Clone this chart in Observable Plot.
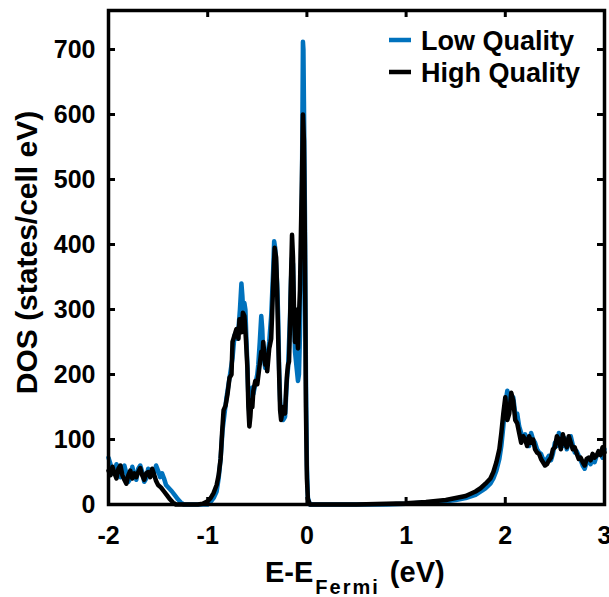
<!DOCTYPE html>
<html>
<head>
<meta charset="utf-8">
<script src="https://cdn.jsdelivr.net/npm/d3@7"></script>
<script src="https://cdn.jsdelivr.net/npm/@observablehq/plot@0.6"></script>
<style>
  html, body { margin: 0; padding: 0; background: #fff; }
  svg { display: block; }
</style>
</head>
<body>
<div id="chart"></div>
<script>
// ---- Data ----
const lowX = [-2.00,-1.98,-1.96,-1.94,-1.92,-1.90,-1.88,-1.86,-1.84,-1.82,-1.80,-1.78,-1.76,-1.74,-1.72,-1.70,-1.68,-1.66,-1.64,-1.62,-1.60,-1.58,-1.56,-1.54,-1.52,-1.50,-1.48,-1.46,-1.44,-1.42,-1.39,-1.36,-1.33,-1.30,-1.27,-1.24,-1.10,-1.00,-0.97,-0.94,-0.91,-0.89,-0.87,-0.85,-0.83,-0.81,-0.79,-0.77,-0.75,-0.73,-0.71,-0.69,-0.675,-0.66,-0.65,-0.64,-0.63,-0.62,-0.61,-0.60,-0.59,-0.58,-0.57,-0.56,-0.55,-0.54,-0.52,-0.50,-0.49,-0.475,-0.46,-0.45,-0.44,-0.42,-0.40,-0.38,-0.36,-0.34,-0.33,-0.32,-0.30,-0.29,-0.28,-0.27,-0.26,-0.25,-0.24,-0.22,-0.21,-0.20,-0.19,-0.18,-0.17,-0.16,-0.15,-0.14,-0.13,-0.12,-0.11,-0.10,-0.09,-0.08,-0.07,-0.06,-0.05,-0.04,-0.035,-0.03,-0.02,-0.01,0.00,0.01,0.03,0.40,0.80,1.00,1.20,1.40,1.50,1.60,1.70,1.75,1.80,1.85,1.88,1.91,1.94,1.96,1.98,2.00,2.02,2.04,2.06,2.08,2.10,2.12,2.14,2.16,2.18,2.20,2.22,2.24,2.26,2.28,2.30,2.32,2.34,2.36,2.38,2.40,2.42,2.44,2.46,2.48,2.50,2.52,2.54,2.56,2.58,2.60,2.62,2.64,2.66,2.68,2.70,2.72,2.74,2.76,2.78,2.80,2.82,2.84,2.86,2.88,2.90,2.92,2.94,2.96,2.98,3.00];
const lowDOS = [72,62,48,50,62,55,42,52,60,48,35,40,58,46,38,55,60,50,35,40,55,52,45,48,60,52,42,48,40,30,25,20,14,8,3,0,0,0,4,10,20,40,70,115,140,165,185,205,225,260,255,270,300,340,320,290,310,300,255,215,165,140,150,175,180,170,185,200,215,250,290,270,230,210,225,250,290,360,405,395,340,290,210,160,140,135,130,135,165,195,210,250,290,345,380,370,290,235,220,205,190,200,260,360,480,712,700,620,450,200,60,10,0,0,0,1,3,5,7,10,15,20,25,32,40,52,70,90,120,155,175,160,150,165,140,140,120,110,100,108,95,90,110,100,95,85,80,78,70,65,70,75,68,78,95,90,110,95,90,102,85,95,105,92,80,82,75,68,60,55,65,70,62,72,65,75,78,80,72,85];

const highX = [-2.00,-1.98,-1.96,-1.94,-1.92,-1.90,-1.88,-1.86,-1.84,-1.82,-1.80,-1.78,-1.76,-1.74,-1.72,-1.70,-1.68,-1.66,-1.64,-1.62,-1.60,-1.58,-1.56,-1.54,-1.52,-1.50,-1.47,-1.44,-1.41,-1.38,-1.35,-1.32,-1.20,-1.10,-1.05,-1.00,-0.97,-0.94,-0.91,-0.89,-0.87,-0.855,-0.84,-0.82,-0.80,-0.78,-0.76,-0.75,-0.73,-0.71,-0.69,-0.68,-0.66,-0.645,-0.63,-0.615,-0.60,-0.59,-0.58,-0.57,-0.56,-0.55,-0.54,-0.52,-0.50,-0.48,-0.46,-0.45,-0.44,-0.42,-0.41,-0.40,-0.38,-0.36,-0.35,-0.34,-0.325,-0.31,-0.30,-0.29,-0.28,-0.27,-0.26,-0.25,-0.24,-0.22,-0.21,-0.20,-0.19,-0.18,-0.17,-0.16,-0.15,-0.14,-0.13,-0.12,-0.11,-0.10,-0.09,-0.08,-0.07,-0.06,-0.05,-0.04,-0.03,-0.02,-0.01,0.00,0.01,0.03,0.20,0.50,0.80,1.00,1.20,1.40,1.50,1.60,1.70,1.75,1.80,1.85,1.88,1.91,1.94,1.96,1.98,2.00,2.02,2.04,2.06,2.08,2.10,2.12,2.14,2.16,2.18,2.20,2.22,2.24,2.26,2.28,2.30,2.32,2.34,2.36,2.38,2.40,2.42,2.44,2.46,2.48,2.50,2.52,2.54,2.56,2.58,2.60,2.62,2.64,2.66,2.68,2.70,2.72,2.74,2.76,2.78,2.80,2.82,2.84,2.86,2.88,2.90,2.92,2.94,2.96,2.98,3.00];
const highDOS = [52,45,58,48,40,55,60,45,38,32,45,52,40,48,42,50,56,45,38,48,50,42,55,46,36,30,26,20,14,8,3,0,0,0,1,5,10,18,30,45,70,110,145,152,170,195,200,250,260,270,255,285,265,295,290,255,210,150,120,135,160,150,175,190,185,210,235,225,250,215,225,205,240,255,295,340,395,380,330,260,200,145,130,140,150,140,175,200,215,220,280,350,415,380,300,250,300,270,240,290,330,420,500,600,560,400,150,40,8,0,0,0,1,2,4,7,10,13,20,25,32,40,50,65,85,110,140,165,130,140,172,160,130,125,110,95,105,100,90,105,95,100,85,80,78,70,65,60,62,68,72,85,88,105,100,85,108,95,88,105,95,85,88,78,70,72,65,60,70,72,68,78,72,75,82,76,88,80];

const xTicks = [-2, -1, 0, 1, 2, 3];
const xTickLabels = ["-2", "-1", "0", "1", "2", "3"];
const yTicks = [0, 100, 200, 300, 400, 500, 600, 700];
const yTickLabels = ["0", "100", "200", "300", "400", "500", "600", "700"];
const seriesNames = ["Low Quality", "High Quality"];
const seriesColors = ["#0072BD", "#000000"];
const yLabel = "DOS (states/cell eV)";
const xLabelMain = "E-E";
const xLabelSub = "Fermi";
const xLabelUnit = " (eV)";

const low = lowX.map((x, i) => ({x, y: lowDOS[i]}));
const high = highX.map((x, i) => ({x, y: highDOS[i]}));

const FONT = "'Liberation Sans', Arial, Helvetica, sans-serif";

const svg = Plot.plot({
  width: 609,
  height: 597,
  marginLeft: 108,
  marginRight: 5,
  marginTop: 10,
  marginBottom: 93,
  style: {fontFamily: FONT, fontWeight: "bold", background: "white", color: "black"},
  x: {domain: [-2, 3]},
  y: {domain: [0, 760]},
  marks: [
    Plot.line(low, {x: "x", y: "y", stroke: seriesColors[0], strokeWidth: 4.5, strokeLinejoin: "round"}),
    Plot.line(high, {x: "x", y: "y", stroke: seriesColors[1], strokeWidth: 4.5, strokeLinejoin: "round"}),
    // inward ticks on all four sides
    Plot.tickX(xTicks, {x: d => d, insetTop: 487, stroke: "black", strokeWidth: 3}),
    Plot.tickX(xTicks, {x: d => d, insetBottom: 487, stroke: "black", strokeWidth: 3}),
    Plot.tickY(yTicks, {y: d => d, insetRight: 489, stroke: "black", strokeWidth: 3}),
    Plot.tickY(yTicks, {y: d => d, insetLeft: 489, stroke: "black", strokeWidth: 3}),
    Plot.frame({stroke: "black", strokeWidth: 3.5}),
    Plot.axisX(xTicks, {tickSize: 0, tickPadding: 22, fontSize: 25, fontWeight: "bold", label: null,
      tickFormat: d => xTickLabels[xTicks.indexOf(d)]}),
    Plot.axisY(yTicks, {tickSize: 0, tickPadding: 13, fontSize: 25, fontWeight: "bold", label: null,
      tickFormat: d => yTickLabels[yTicks.indexOf(d)]}),
    Plot.text([yLabel], {text: d => d, frameAnchor: "left", rotate: -90, dx: -81, dy: -5,
      fontSize: 30, fontWeight: "bold", fill: "black", textAnchor: "middle"})
  ]
});

// x-axis label with subscript
const s = d3.select(svg);
const xl = s.append("text")
  .attr("x", 265).attr("y", 582)
  .attr("text-anchor", "start")
  .attr("font-family", FONT).attr("font-weight", "bold").attr("font-size", 29)
  .attr("fill", "black");
xl.append("tspan").text(xLabelMain);
xl.append("tspan").attr("dy", 12).attr("dx", 2).attr("font-size", 20).attr("letter-spacing", 2).text(xLabelSub);
xl.append("tspan").attr("dy", -12).attr("dx", 2).text(xLabelUnit);

// legend
const lg = s.append("g").attr("font-family", FONT).attr("font-weight", "bold")
  .attr("font-size", 27).attr("text-anchor", "start");
seriesNames.forEach((name, i) => {
  const cy = 40 + i * 32;
  lg.append("line").attr("x1", 389).attr("x2", 411).attr("y1", cy).attr("y2", cy)
    .attr("stroke", seriesColors[i]).attr("stroke-width", 4.5);
  lg.append("text").attr("x", 421).attr("y", cy + 10).attr("fill", "black").text(name);
});

document.getElementById("chart").appendChild(svg);
</script>
</body>
</html>
